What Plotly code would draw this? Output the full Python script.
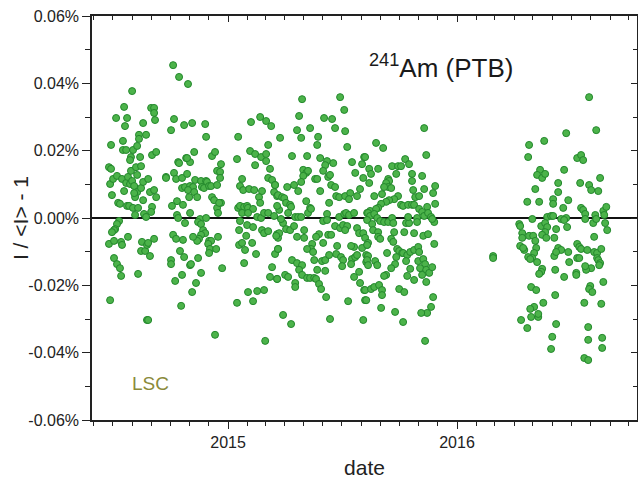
import numpy as np
import pandas as pd
import plotly.graph_objects as go

# decimal year of each measurement
year_frac = [
 2014.760, 2014.786, 2014.825, 2014.581, 2014.546, 2014.664, 2014.677, 2014.677, 2014.681, 2014.511,
 2014.559, 2014.550, 2014.629, 2014.764, 2014.751, 2014.808, 2014.489, 2014.541, 2014.611, 2014.611,
 2014.642, 2014.541, 2014.555, 2014.585, 2014.603, 2014.576, 2014.572, 2014.616, 2014.668, 2014.686,
 2014.782, 2014.817, 2014.480, 2014.489, 2014.485, 2014.498, 2014.515, 2014.537, 2014.555, 2014.563,
 2014.576, 2014.598, 2014.603, 2014.620, 2014.572, 2014.581, 2014.590, 2014.603, 2014.620, 2014.629,
 2014.651, 2014.546, 2014.594, 2014.590, 2014.629, 2014.659, 2014.677, 2014.686, 2014.493, 2014.520,
 2014.528, 2014.559, 2014.568, 2014.585, 2014.607, 2014.668, 2014.664, 2014.633, 2014.642, 2014.594,
 2014.729, 2014.729, 2014.764, 2014.773, 2014.786, 2014.799, 2014.799, 2014.812, 2014.777, 2014.755,
 2014.803, 2014.777, 2014.782, 2014.812, 2014.524, 2014.515, 2014.507, 2014.502, 2014.493, 2014.480,
 2014.502, 2014.533, 2014.537, 2014.563, 2014.624, 2014.620, 2014.638, 2014.646, 2014.651, 2014.677,
 2014.659, 2014.502, 2014.515, 2014.528, 2014.533, 2014.607, 2014.485, 2014.646, 2014.651, 2014.760,
 2014.773, 2014.803, 2014.790, 2014.808, 2014.751, 2014.751, 2014.799, 2014.769, 2014.795, 2014.834,
 2014.843, 2014.900, 2014.904, 2014.852, 2014.930, 2014.943, 2014.834, 2014.821, 2014.969, 2014.952,
 2014.965, 2014.965, 2014.821, 2014.856, 2014.882, 2014.904, 2014.908, 2014.834, 2014.847, 2014.825,
 2014.852, 2014.830, 2014.865, 2014.886, 2014.895, 2014.917, 2014.926, 2014.952, 2014.930, 2014.939,
 2014.952, 2014.969, 2014.961, 2014.956, 2014.834, 2014.878, 2014.869, 2014.882, 2014.904, 2014.891,
 2014.900, 2014.882, 2014.873, 2014.865, 2014.847, 2014.917, 2014.926, 2014.913, 2014.956, 2014.921,
 2014.917, 2014.948, 2014.869, 2014.838, 2014.974, 2014.882, 2014.860, 2014.843, 2014.943, 2015.044,
 2015.039, 2015.100, 2015.140, 2015.166, 2015.188, 2015.175, 2015.096, 2015.118, 2015.144, 2015.166,
 2015.166, 2015.118, 2015.183, 2015.061, 2015.052, 2015.066, 2015.092, 2015.114, 2015.148, 2015.135,
 2015.140, 2015.175, 2015.192, 2015.205, 2015.201, 2015.214, 2015.044, 2015.052, 2015.070, 2015.083,
 2015.087, 2015.109, 2015.061, 2015.087, 2015.127, 2015.144, 2015.157, 2015.175, 2015.201, 2015.052,
 2015.083, 2015.109, 2015.048, 2015.148, 2015.157, 2015.175, 2015.214, 2015.218, 2015.079, 2015.048,
 2015.061, 2015.105, 2015.074, 2015.122, 2015.205, 2015.218, 2015.070, 2015.192, 2015.183, 2015.214,
 2015.087, 2015.127, 2015.157, 2015.109, 2015.039, 2015.162, 2015.323, 2015.489, 2015.507, 2015.310,
 2015.419, 2015.454, 2015.467, 2015.511, 2015.301, 2015.319, 2015.358, 2015.227, 2015.393, 2015.389,
 2015.520, 2015.279, 2015.345, 2015.402, 2015.432, 2015.424, 2015.459, 2015.541, 2015.594, 2015.585,
 2015.328, 2015.341, 2015.349, 2015.328, 2015.415, 2015.437, 2015.445, 2015.380, 2015.389, 2015.555,
 2015.590, 2015.319, 2015.288, 2015.258, 2015.306, 2015.450, 2015.467, 2015.402, 2015.472, 2015.485,
 2015.511, 2015.533, 2015.528, 2015.563, 2015.576, 2015.205, 2015.218, 2015.236, 2015.245, 2015.253,
 2015.271, 2015.275, 2015.341, 2015.358, 2015.349, 2015.362, 2015.223, 2015.214, 2015.262, 2015.293,
 2015.306, 2015.319, 2015.441, 2015.432, 2015.485, 2015.507, 2015.515, 2015.528, 2015.550, 2015.607,
 2015.620, 2015.415, 2015.432, 2015.467, 2015.489, 2015.502, 2015.520, 2015.511, 2015.240, 2015.253,
 2015.271, 2015.288, 2015.231, 2015.223, 2015.210, 2015.332, 2015.332, 2015.301, 2015.397, 2015.415,
 2015.384, 2015.367, 2015.362, 2015.345, 2015.371, 2015.437, 2015.450, 2015.476, 2015.563, 2015.572,
 2015.590, 2015.598, 2015.607, 2015.585, 2015.550, 2015.537, 2015.218, 2015.279, 2015.301, 2015.323,
 2015.310, 2015.376, 2015.410, 2015.424, 2015.441, 2015.472, 2015.493, 2015.502, 2015.541, 2015.555,
 2015.563, 2015.537, 2015.603, 2015.603, 2015.389, 2015.424, 2015.498, 2015.323, 2015.345, 2015.358,
 2015.376, 2015.384, 2015.397, 2015.406, 2015.249, 2015.262, 2015.293, 2015.293, 2015.214, 2015.550,
 2015.572, 2015.576, 2015.594, 2015.428, 2015.524, 2015.598, 2015.240, 2015.275, 2015.445, 2015.590,
 2015.856, 2015.865, 2015.646, 2015.677, 2015.598, 2015.616, 2015.624, 2015.655, 2015.616, 2015.716,
 2015.742, 2015.755, 2015.773, 2015.790, 2015.734, 2015.803, 2015.803, 2015.847, 2015.699, 2015.703,
 2015.690, 2015.699, 2015.712, 2015.681, 2015.638, 2015.672, 2015.808, 2015.817, 2015.834, 2015.856,
 2015.904, 2015.895, 2015.742, 2015.725, 2015.703, 2015.690, 2015.668, 2015.655, 2015.755, 2015.764,
 2015.786, 2015.803, 2015.812, 2015.869, 2015.904, 2015.834, 2015.847, 2015.856, 2015.873, 2015.886,
 2015.900, 2015.891, 2015.611, 2015.620, 2015.607, 2015.646, 2015.638, 2015.651, 2015.664, 2015.681,
 2015.699, 2015.716, 2015.721, 2015.725, 2015.777, 2015.790, 2015.786, 2015.825, 2015.825, 2015.629,
 2015.633, 2015.769, 2015.812, 2015.655, 2015.655, 2015.664, 2015.611, 2015.607, 2015.712, 2015.721,
 2015.852, 2015.873, 2015.900, 2015.694, 2015.738, 2015.747, 2015.760, 2015.764, 2015.782, 2015.777,
 2015.795, 2015.812, 2015.830, 2015.834, 2015.734, 2015.729, 2015.712, 2015.611, 2015.607, 2015.611,
 2015.642, 2015.651, 2015.830, 2015.852, 2015.860, 2015.838, 2015.865, 2015.878, 2015.891, 2015.795,
 2015.690, 2015.681, 2015.782, 2015.812, 2015.847, 2015.865, 2015.598, 2015.624, 2015.638, 2015.659,
 2015.672, 2015.672, 2015.747, 2015.769, 2015.895, 2015.886, 2015.869, 2015.843, 2015.603,
 2015.668, 2015.729, 2015.764, 2015.860,
 2016.157, 2016.157, 2016.576, 2016.607, 2016.476, 2016.314, 2016.380, 2016.310, 2016.524, 2016.541,
 2016.550, 2016.467, 2016.362, 2016.349, 2016.371, 2016.384, 2016.441, 2016.441, 2016.341, 2016.537,
 2016.576, 2016.585, 2016.616, 2016.624, 2016.306, 2016.358, 2016.419, 2016.419, 2016.485, 2016.463,
 2016.541, 2016.550, 2016.559, 2016.638, 2016.651, 2016.642, 2016.646, 2016.655, 2016.328, 2016.393,
 2016.410, 2016.419, 2016.454, 2016.476, 2016.480, 2016.467, 2016.559, 2016.594, 2016.603, 2016.607,
 2016.598, 2016.271, 2016.275, 2016.284, 2016.284, 2016.314, 2016.332, 2016.341, 2016.367, 2016.384,
 2016.393, 2016.384, 2016.371, 2016.389, 2016.424, 2016.432, 2016.275, 2016.293, 2016.288, 2016.345,
 2016.336, 2016.328, 2016.310, 2016.319, 2016.349, 2016.441, 2016.454, 2016.424, 2016.432, 2016.485,
 2016.489, 2016.524, 2016.533, 2016.541, 2016.524, 2016.533, 2016.568, 2016.598, 2016.611, 2016.629,
 2016.611, 2016.616, 2016.624, 2016.620, 2016.585, 2016.563, 2016.559, 2016.371, 2016.367, 2016.358,
 2016.428, 2016.467, 2016.520, 2016.520, 2016.638, 2016.323, 2016.345, 2016.581, 2016.576, 2016.590,
 2016.428, 2016.376, 2016.336, 2016.319, 2016.555, 2016.629, 2016.279, 2016.306, 2016.323, 2016.354,
 2016.354, 2016.432, 2016.572, 2016.415, 2016.633, 2016.572, 2016.410, 2016.633, 2016.555, 2016.572,
]

# relative deviation I/<I> - 1, in percent
rel_dev = [
 0.0454, 0.0419, 0.0398, 0.0377, 0.0330, 0.0327, 0.0327, 0.0312, 0.0291, 0.0297,
 0.0297, 0.0273, 0.0282, 0.0294, 0.0261, 0.0276, 0.0217, 0.0229, 0.0247, 0.0235,
 0.0247, 0.0202, 0.0202, 0.0202, 0.0214, 0.0181, 0.0172, 0.0181, 0.0187, 0.0196,
 0.0166, 0.0178, 0.0151, 0.0146, 0.0101, 0.0116, 0.0125, 0.0116, 0.0104, 0.0122,
 0.0140, 0.0151, 0.0128, 0.0154, 0.0101, 0.0110, 0.0095, 0.0077, 0.0089, 0.0107,
 0.0116, 0.0080, 0.0062, 0.0074, 0.0053, 0.0077, 0.0083, 0.0062, 0.0068, 0.0045,
 0.0042, 0.0036, 0.0036, 0.0030, 0.0030, 0.0033, 0.0018, 0.0012, 0.0003, 0.0009,
 0.0122, 0.0119, 0.0134, 0.0116, 0.0163, 0.0119, 0.0089, 0.0092, 0.0050, 0.0036,
 0.0039, 0.0009, 0.0000, -0.0015, -0.0009, -0.0018, -0.0033, -0.0036, -0.0042, -0.0077,
 -0.0068, -0.0071, -0.0080, -0.0056, -0.0071, -0.0098, -0.0098, -0.0080, -0.0074, -0.0062,
 -0.0113, -0.0119, -0.0137, -0.0149, -0.0172, -0.0166, -0.0244, -0.0303, -0.0303, -0.0050,
 -0.0062, -0.0065, -0.0098, -0.0116, -0.0125, -0.0137, -0.0169, -0.0187, -0.0261, -0.0140,
 0.0282, 0.0279, 0.0241, 0.0196, 0.0184, 0.0196, 0.0166, 0.0178, 0.0160, 0.0140,
 0.0137, 0.0119, 0.0131, 0.0113, 0.0110, 0.0110, 0.0107, 0.0095, 0.0092, 0.0083,
 0.0077, 0.0062, 0.0062, 0.0092, 0.0089, 0.0095, 0.0095, 0.0098, 0.0062, 0.0053,
 0.0030, 0.0045, 0.0045, 0.0015, 0.0015, -0.0003, -0.0012, -0.0018, 0.0000, -0.0036,
 -0.0045, -0.0050, -0.0062, -0.0068, -0.0056, -0.0068, -0.0068, -0.0077, -0.0056, -0.0092,
 -0.0104, -0.0092, -0.0119, -0.0137, -0.0149, -0.0163, -0.0193, -0.0220, -0.0347, 0.0241,
 0.0175, 0.0285, 0.0300, 0.0288, 0.0273, 0.0217, 0.0199, 0.0190, 0.0181, 0.0190,
 0.0169, 0.0157, 0.0146, 0.0116, 0.0095, 0.0083, 0.0086, 0.0083, 0.0080, 0.0062,
 0.0045, 0.0119, 0.0113, 0.0098, 0.0077, 0.0065, 0.0030, 0.0036, 0.0033, 0.0036,
 0.0030, 0.0027, 0.0015, 0.0015, 0.0003, 0.0000, 0.0015, 0.0015, 0.0006, -0.0009,
 -0.0021, -0.0027, -0.0036, -0.0036, -0.0045, -0.0039, -0.0048, -0.0059, -0.0053, -0.0080,
 -0.0074, -0.0074, -0.0095, -0.0107, -0.0107, -0.0092, -0.0134, -0.0146, -0.0175, -0.0181,
 -0.0220, -0.0217, -0.0214, -0.0247, -0.0252, -0.0365, 0.0353, 0.0359, 0.0321, 0.0303,
 0.0297, 0.0294, 0.0267, 0.0258, 0.0261, 0.0238, 0.0267, 0.0238, 0.0241, 0.0217,
 0.0211, 0.0184, 0.0184, 0.0178, 0.0169, 0.0157, 0.0163, 0.0166, 0.0181, 0.0160,
 0.0143, 0.0134, 0.0140, 0.0125, 0.0140, 0.0122, 0.0128, 0.0116, 0.0116, 0.0134,
 0.0119, 0.0107, 0.0098, 0.0092, 0.0080, 0.0098, 0.0092, 0.0080, 0.0065, 0.0062,
 0.0065, 0.0074, 0.0056, 0.0065, 0.0086, 0.0098, 0.0068, 0.0062, 0.0059, 0.0045,
 0.0039, 0.0033, 0.0050, 0.0030, 0.0015, 0.0027, 0.0024, 0.0036, 0.0015, 0.0003,
 0.0003, 0.0003, 0.0045, 0.0012, 0.0003, 0.0012, 0.0015, 0.0009, 0.0015, 0.0015,
 0.0021, -0.0009, -0.0006, -0.0024, -0.0030, -0.0021, -0.0024, -0.0036, -0.0015, -0.0033,
 -0.0036, -0.0024, -0.0003, -0.0045, -0.0053, -0.0036, -0.0059, -0.0056, -0.0048, -0.0074,
 -0.0056, -0.0077, -0.0092, -0.0092, -0.0101, -0.0050, -0.0050, -0.0083, -0.0030, -0.0045,
 -0.0045, -0.0059, -0.0080, -0.0089, -0.0086, -0.0083, -0.0092, -0.0125, -0.0134, -0.0140,
 -0.0154, -0.0125, -0.0128, -0.0125, -0.0110, -0.0107, -0.0116, -0.0125, -0.0122, -0.0116,
 -0.0110, -0.0137, -0.0110, -0.0131, -0.0154, -0.0157, -0.0143, -0.0169, -0.0178, -0.0178,
 -0.0178, -0.0181, -0.0196, -0.0211, -0.0169, -0.0175, -0.0193, -0.0205, -0.0181, -0.0175,
 -0.0160, -0.0193, -0.0214, -0.0235, -0.0247, -0.0244, -0.0288, -0.0315, -0.0300, -0.0303,
 0.0267, 0.0187, 0.0223, 0.0208, 0.0181, 0.0146, 0.0131, 0.0146, 0.0104, 0.0154,
 0.0154, 0.0154, 0.0175, 0.0160, 0.0131, 0.0131, 0.0110, 0.0125, 0.0116, 0.0110,
 0.0104, 0.0092, 0.0089, 0.0092, 0.0065, 0.0071, 0.0083, 0.0062, 0.0065, 0.0086,
 0.0095, 0.0074, 0.0065, 0.0056, 0.0053, 0.0048, 0.0042, 0.0030, 0.0039, 0.0036,
 0.0039, 0.0039, 0.0039, 0.0033, 0.0042, 0.0027, 0.0018, 0.0006, 0.0015, 0.0003,
 -0.0012, -0.0003, 0.0015, 0.0006, -0.0006, 0.0027, 0.0012, 0.0000, -0.0009, -0.0012,
 -0.0012, 0.0000, -0.0015, -0.0042, -0.0015, -0.0015, 0.0003, 0.0000, -0.0012, -0.0018,
 -0.0036, -0.0042, -0.0045, -0.0042, -0.0056, -0.0062, -0.0074, -0.0080, -0.0062, -0.0071,
 -0.0053, -0.0048, -0.0077, -0.0104, -0.0092, -0.0098, -0.0104, -0.0104, -0.0110, -0.0128,
 -0.0101, -0.0095, -0.0086, -0.0101, -0.0116, -0.0137, -0.0149, -0.0113, -0.0125, -0.0140,
 -0.0128, -0.0140, -0.0128, -0.0122, -0.0137, -0.0149, -0.0154, -0.0163, -0.0146, -0.0151,
 -0.0169, -0.0172, -0.0172, -0.0184, -0.0169, -0.0190, -0.0214, -0.0211, -0.0205, -0.0199,
 -0.0214, -0.0229, -0.0211, -0.0220, -0.0235, -0.0264, -0.0282, -0.0282, -0.0244,
 -0.0267, -0.0279, -0.0309, -0.0365,
 -0.0113, -0.0119, 0.0359, 0.0261, 0.0252, 0.0217, 0.0229, 0.0181, 0.0178, 0.0187,
 0.0172, 0.0143, 0.0143, 0.0128, 0.0119, 0.0131, 0.0104, 0.0077, 0.0086, 0.0104,
 0.0098, 0.0083, 0.0080, 0.0119, 0.0048, 0.0048, 0.0056, 0.0042, 0.0053, 0.0030,
 0.0030, 0.0024, 0.0012, 0.0021, 0.0033, 0.0009, -0.0015, -0.0036, -0.0003, 0.0003,
 0.0006, 0.0006, -0.0003, 0.0000, -0.0027, -0.0006, -0.0003, -0.0015, 0.0009, -0.0003,
 -0.0056, -0.0018, -0.0024, -0.0045, -0.0059, -0.0053, -0.0053, -0.0068, -0.0024, -0.0015,
 -0.0027, -0.0042, -0.0050, -0.0059, -0.0059, -0.0033, -0.0083, -0.0095, -0.0089, -0.0089,
 -0.0104, -0.0119, -0.0116, -0.0122, -0.0131, -0.0089, -0.0095, -0.0113, -0.0101, -0.0101,
 -0.0131, -0.0077, -0.0086, -0.0092, -0.0119, -0.0119, -0.0095, -0.0101, -0.0104, -0.0092,
 -0.0119, -0.0125, -0.0134, -0.0140, -0.0149, -0.0154, -0.0143, -0.0151, -0.0160, -0.0166,
 -0.0154, -0.0175, -0.0163, -0.0169, -0.0190, -0.0205, -0.0214, -0.0202, -0.0211, -0.0220,
 -0.0229, -0.0252, -0.0264, -0.0270, -0.0252, -0.0255, -0.0303, -0.0327, -0.0294, -0.0294,
 -0.0285, -0.0315, -0.0324, -0.0353, -0.0356, -0.0362, -0.0389, -0.0386, -0.0416, -0.0422,
]

y_tick_vals = [-0.06, -0.04, -0.02, 0.0, 0.02, 0.04, 0.06]
y_tick_text = ["-0.06%", "-0.04%", "-0.02%", "0.00%", "0.02%", "0.04%", "0.06%"]
y_minor_vals = [-0.05, -0.03, -0.01, 0.01, 0.03, 0.05]
x_tick_vals = ["2015-01-01", "2016-01-01"]
x_tick_text = ["2015", "2016"]
x_range = ["2014-05-29", "2016-10-14"]
y_range = [-0.06, 0.06]

n = min(len(year_frac), len(rel_dev))
yf = np.array(year_frac[:n])
dates = pd.Timestamp("2015-01-01") + pd.to_timedelta((yf - 2015.0) * 365.25, unit="D")

FONT = "Liberation Sans, Arial, Helvetica, sans-serif"
AX = "#222222"

fig = go.Figure()
fig.add_trace(go.Scatter(
    x=dates, y=rel_dev[:n], mode="markers",
    marker=dict(size=7, color="#4cb34a", line=dict(color="#23882c", width=1)),
    showlegend=False, hoverinfo="skip"))
# empty trace to create the mirrored (inside-tick) axes
fig.add_trace(go.Scatter(x=[], y=[], xaxis="x2", yaxis="y2", showlegend=False))

fig.update_layout(
    width=638, height=481,
    margin=dict(l=92, r=1, t=16, b=61, autoexpand=False),
    paper_bgcolor="white", plot_bgcolor="white",
    font=dict(family=FONT, color=AX, size=16),
    xaxis=dict(
        type="date", range=x_range, tickmode="array", automargin=False,
        tickvals=x_tick_vals, ticktext=x_tick_text,
        ticks="outside", ticklen=7, tickwidth=1.3, tickcolor=AX,
        minor=dict(dtick="M1", tick0="2015-01-01", ticks="outside", ticklen=4,
                   tickwidth=1.3, tickcolor=AX, showgrid=False),
        showline=True, linecolor=AX, linewidth=1.5, showgrid=False, zeroline=False,
        tickfont=dict(size=16, family=FONT, color=AX),
        title=dict(text="date", font=dict(size=21, family=FONT, color=AX), standoff=10),
    ),
    yaxis=dict(
        range=y_range, tickmode="array", tickvals=y_tick_vals, ticktext=y_tick_text,
        automargin=False,
        ticks="outside", ticklen=8, tickwidth=1.3, tickcolor=AX,
        minor=dict(tickmode="array", tickvals=y_minor_vals, ticks="outside", ticklen=5,
                   tickwidth=1.3, tickcolor=AX, showgrid=False),
        showline=True, linecolor=AX, linewidth=1.5, showgrid=False,
        zeroline=True, zerolinecolor="#111111", zerolinewidth=1.5,
        tickfont=dict(size=16, family=FONT, color=AX),
    ),
    xaxis2=dict(
        type="date", range=x_range, overlaying="x", side="top", automargin=False,
        tickmode="array", tickvals=x_tick_vals, ticks="inside", ticklen=6,
        tickwidth=1.3, tickcolor=AX, showticklabels=False,
        minor=dict(dtick="M1", tick0="2015-01-01", ticks="inside", ticklen=4,
                   tickwidth=1.3, tickcolor=AX, showgrid=False),
        showline=True, linecolor=AX, linewidth=1.5, showgrid=False, zeroline=False,
    ),
    yaxis2=dict(
        range=y_range, overlaying="y", side="right", tickmode="array", automargin=False,
        tickvals=y_tick_vals, ticks="inside", ticklen=6, tickwidth=1.3, tickcolor=AX,
        showticklabels=False,
        minor=dict(tickmode="array", tickvals=y_minor_vals, ticks="inside", ticklen=4,
                   tickwidth=1.3, tickcolor=AX, showgrid=False),
        showline=True, linecolor=AX, linewidth=1.5, showgrid=False, zeroline=False,
    ),
    annotations=[
        dict(text="I / &lt;I&gt; - 1", x=-0.132, y=0.5, xref="paper", yref="paper",
             textangle=-90, showarrow=False, xanchor="center", yanchor="middle",
             font=dict(size=21, family=FONT, color=AX)),
        dict(text="<sup>241</sup>Am (PTB)", x=0.64, y=0.875, xref="paper", yref="paper",
             showarrow=False, xanchor="center", yanchor="middle",
             font=dict(size=26, family=FONT, color="#1a1a1a")),
        dict(text="LSC", x=0.107, y=0.09, xref="paper", yref="paper",
             showarrow=False, xanchor="center", yanchor="middle",
             font=dict(size=19, family=FONT, color="#8a8a3a")),
    ],
)

fig.write_html(
    "out.html",
    config={"displayModeBar": False},
    post_script="document.body.style.margin='0';document.body.style.padding='0';"
                "document.body.style.overflow='hidden';",
)
